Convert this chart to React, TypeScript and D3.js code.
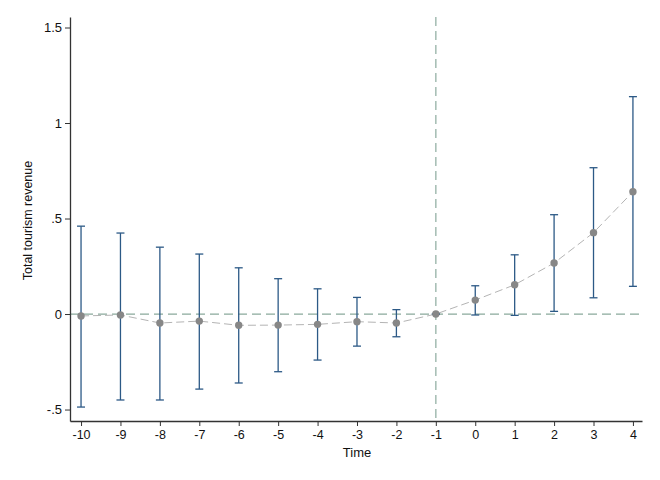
import * as d3 from 'd3';
import React, { useEffect, useRef } from 'react';

// event time
const periods = [-10, -9, -8, -7, -6, -5, -4, -3, -2, -1, 0, 1, 2, 3, 4];
// point estimates
const estimates = [-0.01, -0.005, -0.047, -0.037, -0.059, -0.058, -0.054, -0.04, -0.047, 0, 0.073, 0.153, 0.267, 0.426, 0.64];
// 95% CI bounds
const ciUpper = [0.46, 0.424, 0.35, 0.314, 0.242, 0.185, 0.132, 0.087, 0.023, 0, 0.148, 0.31, 0.52, 0.766, 1.138];
const ciLower = [-0.487, -0.45, -0.45, -0.393, -0.361, -0.302, -0.241, -0.168, -0.119, 0, -0.005, -0.007, 0.014, 0.085, 0.145];

const yTicks = [-0.5, 0, 0.5, 1, 1.5];
const yTickLabels = ['-.5', '0', '.5', '1', '1.5'];

const App: React.FC = () => {
  const svgRef = useRef<SVGSVGElement>(null);

  useEffect(() => {
    if (!svgRef.current) { return; }
    const svg = d3.select(svgRef.current);
    svg.selectAll("*").remove();

    const width = 660;
    const height = 480;
    const margin = { top: 17, right: 18, bottom: 59, left: 70 };
    const chartWidth = width - margin.left - margin.right;
    const chartHeight = height - margin.top - margin.bottom;

    const xScale = d3.scaleLinear()
      .domain([-10.28, 4.23])
      .range([0, chartWidth]);

    const yScale = d3.scaleLinear()
      .domain([-0.56, 1.555])
      .range([chartHeight, 0]);

    const data = periods.map((t, i) => ({
      t,
      est: estimates[i],
      lo: ciLower[i],
      hi: ciUpper[i]
    }));

    svg.append("rect")
      .attr("width", width)
      .attr("height", height)
      .attr("fill", "white");

    const chart = svg.append("g")
      .attr("transform", `translate(${margin.left},${margin.top})`);

    const font = "Arial, 'Liberation Sans', sans-serif";

    // reference lines
    chart.append("line")
      .attr("x1", 0)
      .attr("x2", chartWidth)
      .attr("y1", yScale(0))
      .attr("y2", yScale(0))
      .attr("stroke", "#8aa99c")
      .attr("stroke-width", 1.2)
      .attr("stroke-dasharray", "9,5");

    chart.append("line")
      .attr("x1", xScale(-1))
      .attr("x2", xScale(-1))
      .attr("y1", 0)
      .attr("y2", chartHeight)
      .attr("stroke", "#a3bcb2")
      .attr("stroke-width", 1.5)
      .attr("stroke-dasharray", "9,5");

    // connecting line
    const line = d3.line<{ t: number, est: number }>()
      .x(dp => xScale(dp.t))
      .y(dp => yScale(dp.est));

    chart.append("path")
      .datum(data)
      .attr("fill", "none")
      .attr("stroke", "#b4b4b4")
      .attr("stroke-width", 1)
      .attr("stroke-dasharray", "8,4")
      .attr("d", line);

    // error bars
    const ciColor = "#2c5986";
    const capHalf = 4;
    const bars = chart.selectAll(".ci")
      .data(data)
      .enter().append("g")
      .attr("class", "ci");

    bars.append("line")
      .attr("x1", dp => xScale(dp.t))
      .attr("x2", dp => xScale(dp.t))
      .attr("y1", dp => yScale(dp.lo))
      .attr("y2", dp => yScale(dp.hi))
      .attr("stroke", ciColor)
      .attr("stroke-width", 1.3);

    bars.append("line")
      .attr("x1", dp => xScale(dp.t) - capHalf)
      .attr("x2", dp => xScale(dp.t) + capHalf)
      .attr("y1", dp => yScale(dp.hi))
      .attr("y2", dp => yScale(dp.hi))
      .attr("stroke", ciColor)
      .attr("stroke-width", 1.3);

    bars.append("line")
      .attr("x1", dp => xScale(dp.t) - capHalf)
      .attr("x2", dp => xScale(dp.t) + capHalf)
      .attr("y1", dp => yScale(dp.lo))
      .attr("y2", dp => yScale(dp.lo))
      .attr("stroke", ciColor)
      .attr("stroke-width", 1.3);

    // points
    chart.selectAll(".dot")
      .data(data)
      .enter().append("circle")
      .attr("class", "dot")
      .attr("cx", dp => xScale(dp.t))
      .attr("cy", dp => yScale(dp.est))
      .attr("r", 3.7)
      .attr("fill", "#878787");

    // axes
    const xAxis = chart.append("g")
      .attr("transform", `translate(0,${chartHeight})`)
      .call(d3.axisBottom(xScale)
        .tickValues(periods)
        .tickSize(5)
        .tickSizeOuter(0)
        .tickPadding(4)
        .tickFormat(d => `${d}`)
      );
    xAxis.select(".domain").attr("stroke", "#333").attr("stroke-width", 1.3);
    xAxis.selectAll(".tick line").attr("stroke", "#333");
    xAxis.selectAll("text")
      .style("font-family", font)
      .style("font-size", "12.5px")
      .attr("fill", "#111");

    const yAxis = chart.append("g")
      .call(d3.axisLeft(yScale)
        .tickValues(yTicks)
        .tickSize(5)
        .tickSizeOuter(0)
        .tickPadding(3)
        .tickFormat((d, i) => yTickLabels[i])
      );
    yAxis.select(".domain").attr("stroke", "#333").attr("stroke-width", 1.3);
    yAxis.selectAll(".tick line").attr("stroke", "#333");
    yAxis.selectAll("text")
      .style("font-family", font)
      .style("font-size", "13px")
      .attr("fill", "#111");

    // axis titles
    svg.append("text")
      .attr("x", margin.left + xScale(-3))
      .attr("y", 457)
      .attr("text-anchor", "middle")
      .style("font-family", font)
      .style("font-size", "13px")
      .attr("fill", "#111")
      .text("Time");

    svg.append("text")
      .attr("transform", `translate(32,${margin.top + yScale(0.5) + 2}) rotate(-90)`)
      .attr("text-anchor", "middle")
      .style("font-family", font)
      .style("font-size", "12.5px")
      .attr("fill", "#111")
      .text("Total tourism revenue");
  }, []);

  return (
    <div style={{ position: "fixed", left: 0, top: 0 }}>
      <svg ref={svgRef} width={660} height={480} style={{ display: "block" }} />
    </div>
  );
};

export default App;
